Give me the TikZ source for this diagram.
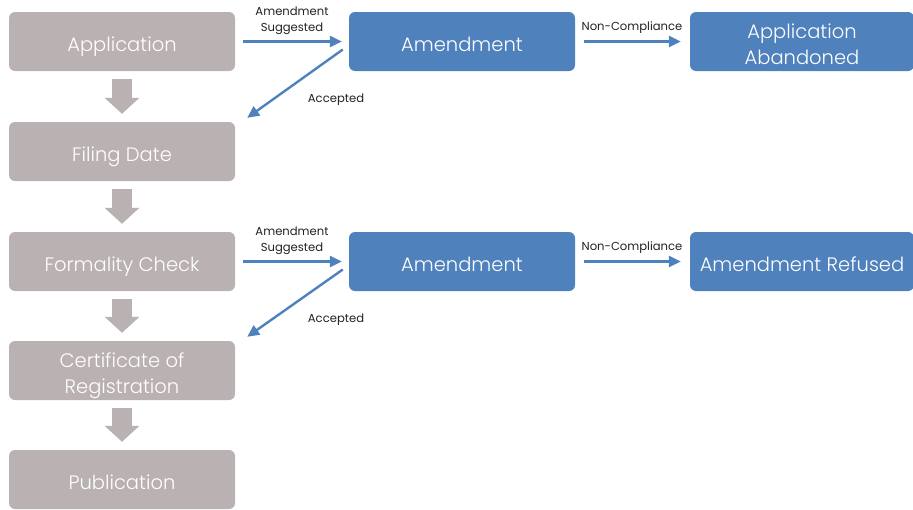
\documentclass[tikz,border=0pt]{standalone}
\usepackage{fontspec}
\setmainfont{Poppins}[UprightFont=* Light]
\newfontfamily\labelfont{Poppins}
\usetikzlibrary{arrows.meta}
\definecolor{boxgrey}{HTML}{B9B1B2}
\definecolor{boxblue}{HTML}{4F81BD}
\definecolor{labelc}{HTML}{222222}
\newcommand{\boxtxt}[1]{\raisebox{-4.5pt}[\height][\depth]{\begin{tabular}{@{}c@{}}#1\end{tabular}}}
\begin{document}
\begin{tikzpicture}[x=1pt,y=-1pt,
  box/.style={rounded corners=6pt, inner sep=0pt, minimum height=59pt,
    text=white, font=\fontsize{19.5}{26}\selectfont},
  greybox/.style={box, fill=boxgrey, minimum width=226pt},
  bluebox/.style={box, fill=boxblue, minimum width=226pt},
  blockarrow/.style={draw=boxgrey, line width=20pt, -{Triangle[width=34pt,length=16pt]},
    shorten <=8pt, shorten >=8pt},
  flow/.style={draw=boxblue, line width=2.4pt, -{Triangle[width=11pt,length=12pt]}},
  lbl/.style={text=labelc, font=\labelfont\fontsize{11.6}{16}\selectfont, align=center, inner sep=0pt}]
\useasboundingbox (0,0) rectangle (913,509);
% grey column
\node[greybox] (app) at (122,41.5) {\boxtxt{Application}};
\node[greybox] (fil) at (122,151.5) {\boxtxt{Filing Date}};
\node[greybox] (frm) at (122,261.5) {\boxtxt{Formality Check}};
\node[greybox] (cert) at (122,370.5) {\boxtxt{Certificate of\\Registration}};
\node[greybox] (pub) at (122,479.5) {\boxtxt{Publication}};
% blue boxes
\node[bluebox] (am1) at (462,41.5) {\boxtxt{Amendment}};
\node[bluebox, minimum width=224pt] (ab) at (802,41.5) {\boxtxt{Application\\Abandoned}};
\node[bluebox] (am2) at (462,261.5) {\boxtxt{Amendment}};
\node[bluebox, minimum width=224pt] (ref) at (802,261.5) {\boxtxt{Amendment Refused}};
% block arrows
\draw[blockarrow] (app) -- (fil);
\draw[blockarrow] (fil) -- (frm);
\draw[blockarrow] (frm) -- (cert);
\draw[blockarrow] (cert) -- (pub);
% flow row 1
\draw[flow, shorten <=8pt, shorten >=7pt] (app.east) -- (am1.west);
\draw[flow, shorten <=9pt, shorten >=9pt] (am1.east) -- (ab.west);
\draw[flow] ([xshift=-6pt,yshift=-8pt]am1.west) -- ([xshift=12pt,yshift=4pt]fil.north east);
\node[lbl] (l1) at (292,21) {Amendment\\Suggested};
\node[lbl] (l2) at (632,28) {Non-Compliance};
\node[lbl] (l3) at (336,100) {Accepted};
% flow row 2
\draw[flow, shorten <=8pt, shorten >=7pt] (frm.east) -- (am2.west);
\draw[flow, shorten <=9pt, shorten >=9pt] (am2.east) -- (ref.west);
\draw[flow] ([xshift=-6pt,yshift=-8pt]am2.west) -- ([xshift=12pt,yshift=4pt]cert.north east);
\node[lbl] (l4) at (292,241) {Amendment\\Suggested};
\node[lbl] (l5) at (632,248) {Non-Compliance};
\node[lbl] (l6) at (336,320) {Accepted};
\end{tikzpicture}
\end{document}
